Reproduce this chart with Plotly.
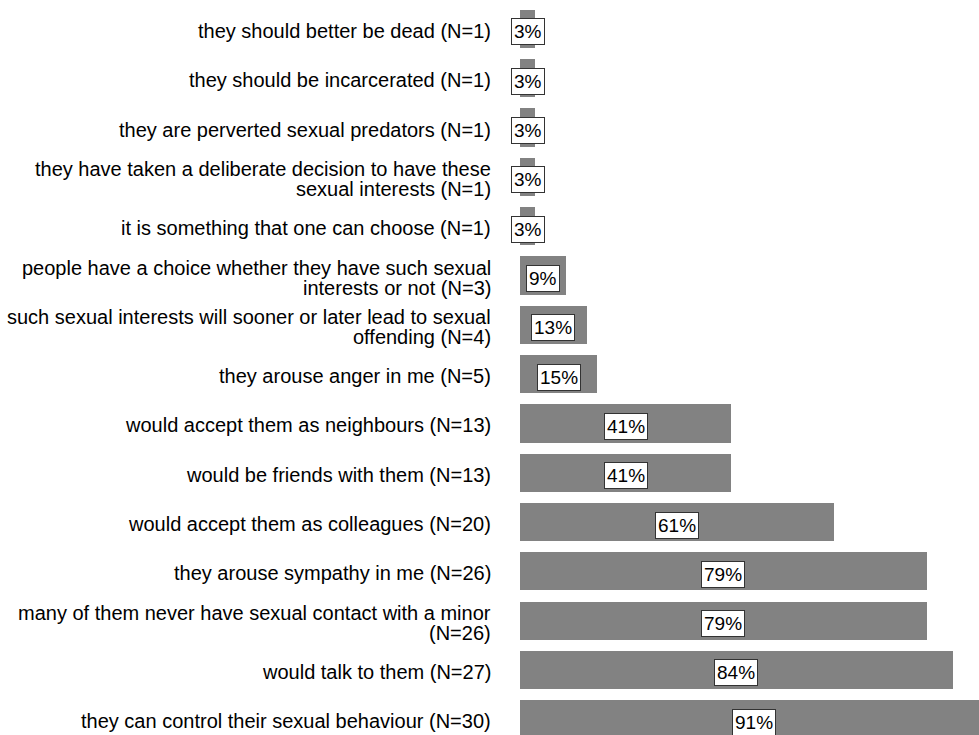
import plotly.graph_objects as go

# category labels; "\n" marks where the reference wraps the text
categories = [
    "they should better be dead (N=1)",
    "they should be incarcerated (N=1)",
    "they are perverted sexual predators (N=1)",
    "they have taken a deliberate decision to have these\nsexual interests (N=1)",
    "it is something that one can choose (N=1)",
    "people have a choice whether they have such sexual\ninterests or not (N=3)",
    "such sexual interests will sooner or later lead to sexual\noffending (N=4)",
    "they arouse anger in me (N=5)",
    "would accept them as neighbours (N=13)",
    "would be friends with them (N=13)",
    "would accept them as colleagues (N=20)",
    "they arouse sympathy in me (N=26)",
    "many of them never have sexual contact with a minor\n(N=26)",
    "would talk to them (N=27)",
    "they can control their sexual behaviour (N=30)",
]
percent = [3, 3, 3, 3, 3, 9, 13, 15, 41, 41, 61, 79, 79, 84, 91]
value_labels = [f"{v}%" for v in percent]

FONT = "Liberation Sans, Arial, sans-serif"
LABEL_SIZE = 20
LINE_GAP = 20

ypos = list(range(len(categories)))

fig = go.Figure(
    go.Bar(
        x=percent,
        y=ypos,
        orientation="h",
        marker=dict(color="#828282", line=dict(width=0)),
        width=0.775,
        hoverinfo="skip",
    )
)

# value labels in white boxes
for i, (v, lab) in enumerate(zip(percent, value_labels)):
    fig.add_annotation(
        x=v / 2, y=i, xref="x", yref="y",
        text=lab, showarrow=False,
        font=dict(family=FONT, size=19, color="black"),
        bgcolor="white", bordercolor="#333333", borderwidth=1, borderpad=2,
        yshift=-3,
    )

# category labels, right-aligned left of the bars
for i, cat in enumerate(categories):
    lines = cat.split("\n")
    n = len(lines)
    for k, line in enumerate(lines):
        off = ((n - 1) / 2 - k) * LINE_GAP
        fig.add_annotation(
            x=0, y=i, xref="paper", yref="y",
            text=line, showarrow=False,
            xanchor="right", yanchor="middle",
            xshift=-27, yshift=off - 2,
            font=dict(family=FONT, size=LABEL_SIZE, color="black"),
        )

fig.update_layout(
    width=979, height=735,
    margin=dict(l=520, r=0, t=0, b=0),
    paper_bgcolor="white", plot_bgcolor="white",
    showlegend=False,
    bargap=0,
    hovermode=False,
    font=dict(family=FONT, size=18, color="black"),
)
fig.update_xaxes(range=[0, 89.1], visible=False, showgrid=False, zeroline=False)
fig.update_yaxes(
    range=[14.32, -0.588],
    showticklabels=False,
    showgrid=False, zeroline=False, showline=False, ticks="",
)

fig.write_html(
    "out.html",
    config={"displayModeBar": False, "staticPlot": True},
    post_script="document.body.style.margin='0';",
)
